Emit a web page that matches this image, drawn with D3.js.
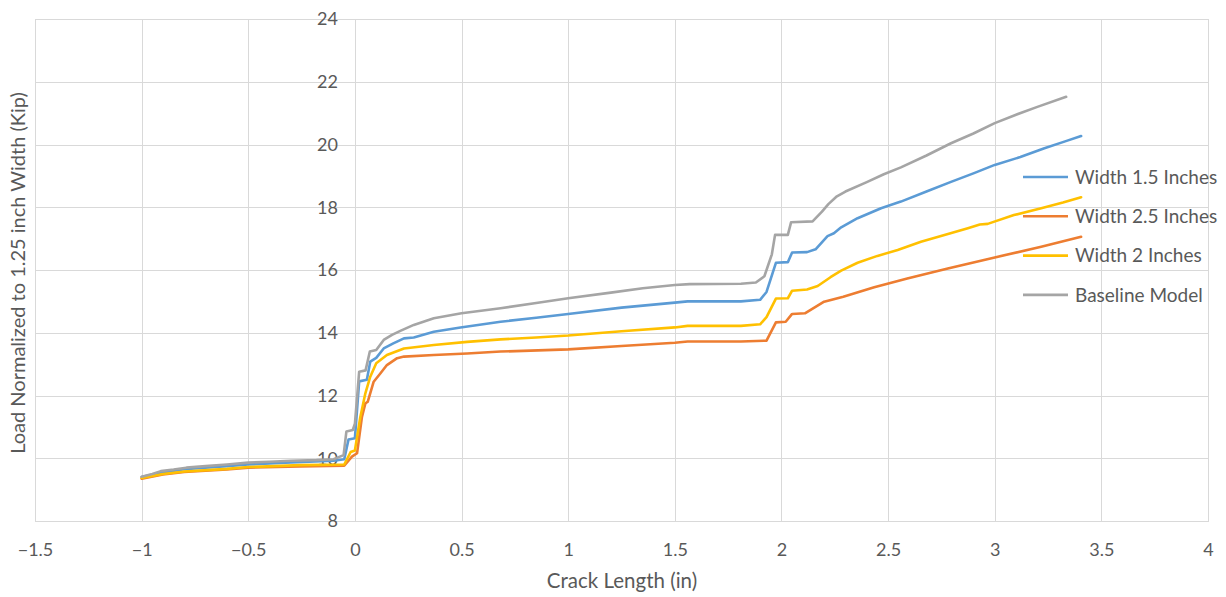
<!DOCTYPE html>
<html>
<head>
<meta charset="utf-8">
<script src="https://cdn.jsdelivr.net/npm/d3@7"></script>
<style>
  html, body { margin: 0; padding: 0; background: #ffffff; }
  svg text { font-family: Lato, "Open Sans", sans-serif; fill: #595959; }
</style>
</head>
<body>
<svg id="chart" width="1226" height="597"></svg>
<script>
// ---- data ----
const seriesNames = ["Width 1.5 Inches", "Width 2.5 Inches", "Width 2 Inches", "Baseline Model"];
const seriesColors = ["#5B9BD5", "#ED7D31", "#FFC000", "#A5A5A5"];

const width15 = [
  [-1.0,9.4],[-0.9,9.55],[-0.8,9.65],[-0.6,9.75],[-0.5,9.8],[-0.3,9.87],[-0.1,9.92],[-0.05,9.97],
  [-0.03,10.6],[0.0,10.64],[0.02,12.45],[0.056,12.5],[0.072,13.08],[0.1,13.2],[0.135,13.5],[0.18,13.66],
  [0.23,13.82],[0.276,13.85],[0.37,14.03],[0.495,14.17],[0.683,14.35],[0.85,14.48],[1.0,14.6],[1.25,14.8],
  [1.5,14.96],[1.56,15.0],[1.81,15.0],[1.9,15.05],[1.93,15.3],[1.974,16.23],[2.03,16.25],[2.05,16.56],
  [2.12,16.57],[2.16,16.66],[2.216,17.08],[2.246,17.17],[2.28,17.36],[2.357,17.65],[2.467,17.97],[2.56,18.18],
  [2.68,18.5],[2.795,18.81],[2.9,19.08],[3.0,19.35],[3.12,19.6],[3.233,19.88],[3.33,20.1],[3.405,20.27]
];
const width25 = [
  [-1.0,9.35],[-0.9,9.48],[-0.8,9.56],[-0.6,9.64],[-0.5,9.7],[-0.256,9.74],[-0.05,9.76],[-0.014,10.05],
  [0.01,10.16],[0.033,11.32],[0.049,11.75],[0.06,11.8],[0.088,12.44],[0.12,12.71],[0.15,12.97],[0.198,13.19],
  [0.23,13.24],[0.37,13.29],[0.526,13.34],[0.683,13.4],[1.0,13.47],[1.25,13.58],[1.5,13.68],[1.56,13.72],
  [1.81,13.72],[1.93,13.75],[1.974,14.33],[2.02,14.35],[2.05,14.6],[2.11,14.62],[2.2,14.99],[2.29,15.15],
  [2.435,15.45],[2.59,15.73],[2.78,16.05],[3.0,16.4],[3.218,16.74],[3.405,17.06]
];
const width2 = [
  [-1.0,9.37],[-0.9,9.5],[-0.8,9.58],[-0.6,9.66],[-0.5,9.72],[-0.256,9.78],[-0.05,9.8],[-0.02,10.2],
  [0.0,10.25],[0.025,11.3],[0.049,12.07],[0.072,12.6],[0.1,13.03],[0.15,13.29],[0.23,13.5],[0.37,13.61],
  [0.526,13.71],[0.683,13.79],[0.85,13.85],[1.0,13.91],[1.25,14.05],[1.5,14.17],[1.56,14.22],[1.81,14.22],
  [1.9,14.27],[1.93,14.5],[1.974,15.09],[2.03,15.1],[2.05,15.34],[2.12,15.38],[2.17,15.49],[2.23,15.77],
  [2.28,15.98],[2.357,16.23],[2.45,16.45],[2.545,16.64],[2.654,16.9],[2.748,17.08],[2.874,17.33],[2.93,17.45],
  [2.967,17.47],[3.09,17.75],[3.218,17.97],[3.32,18.15],[3.405,18.32]
];
const baseline = [
  [-1.0,9.41],[-0.95,9.5],[-0.91,9.59],[-0.85,9.64],[-0.79,9.7],[-0.7,9.75],[-0.6,9.8],[-0.5,9.86],
  [-0.4,9.89],[-0.3,9.92],[-0.18,9.94],[-0.1,9.97],[-0.053,10.1],[-0.04,10.85],[-0.01,10.9],[0.0,11.1],
  [0.02,12.76],[0.05,12.8],[0.07,13.4],[0.1,13.45],[0.135,13.77],[0.174,13.93],[0.213,14.06],[0.276,14.25],
  [0.37,14.46],[0.5,14.62],[0.683,14.78],[0.85,14.95],[1.0,15.1],[1.2,15.28],[1.35,15.42],[1.5,15.52],
  [1.57,15.55],[1.81,15.56],[1.88,15.6],[1.92,15.8],[1.955,16.5],[1.97,17.12],[2.03,17.12],[2.045,17.52],
  [2.146,17.55],[2.19,17.86],[2.22,18.1],[2.26,18.35],[2.3,18.5],[2.4,18.8],[2.48,19.05],[2.56,19.27],
  [2.68,19.65],[2.795,20.04],[2.9,20.35],[3.0,20.68],[3.1,20.95],[3.2,21.2],[3.335,21.52]
];
const seriesData = [width15, width25, width2, baseline];

const xTicks = [-1.5, -1, -0.5, 0, 0.5, 1, 1.5, 2, 2.5, 3, 3.5, 4];
const yTicks = [8, 10, 12, 14, 16, 18, 20, 22, 24];
const xTitle = "Crack Length (in)";
const yTitle = "Load Normalized to 1.25 inch Width (Kip)";

// ---- layout ----
const plot = { left: 35, right: 1208, top: 19, bottom: 521 };
const svg = d3.select("#chart");

const x = d3.scaleLinear().domain([-1.5, 4]).range([plot.left, plot.right]);
const y = d3.scaleLinear().domain([8, 24]).range([plot.bottom, plot.top]);

const gridColor = "#D9D9D9";

// vertical gridlines
svg.append("g")
  .attr("transform", `translate(0,${plot.bottom})`)
  .call(d3.axisBottom(x).tickValues(xTicks).tickSize(-(plot.bottom - plot.top)).tickFormat(""))
  .call(g => g.select(".domain").remove())
  .call(g => g.selectAll("line").attr("stroke", gridColor).attr("stroke-width", 1).attr("shape-rendering", "crispEdges"));

// horizontal gridlines
svg.append("g")
  .attr("transform", `translate(${plot.left},0)`)
  .call(d3.axisLeft(y).tickValues(yTicks).tickSize(-(plot.right - plot.left)).tickFormat(""))
  .call(g => g.select(".domain").remove())
  .call(g => g.selectAll("line").attr("stroke", gridColor).attr("stroke-width", 1).attr("shape-rendering", "crispEdges"));

// x axis labels
svg.append("g")
  .attr("transform", `translate(0,${plot.bottom})`)
  .call(d3.axisBottom(x).tickValues(xTicks).tickSize(0).tickPadding(20).tickFormat(d3.format("")))
  .call(g => g.select(".domain").attr("stroke", gridColor).attr("shape-rendering", "crispEdges"))
  .call(g => g.selectAll("text").attr("font-size", 18).attr("font-family", "Lato").attr("fill", "#595959").attr("dy", "0.35em").attr("y", 29));

// y axis labels at x = 0
svg.append("g")
  .attr("transform", `translate(${x(0)},0)`)
  .call(d3.axisLeft(y).tickValues(yTicks).tickSize(0).tickPadding(17))
  .call(g => g.select(".domain").attr("stroke", gridColor).attr("shape-rendering", "crispEdges"))
  .call(g => g.selectAll("text").attr("font-size", 18).attr("font-family", "Lato").attr("fill", "#595959"));

// lines
const line = d3.line().x(d => x(d[0])).y(d => y(d[1]));
svg.append("g").selectAll("path")
  .data(seriesData)
  .join("path")
  .attr("d", line)
  .attr("fill", "none")
  .attr("stroke", (d, i) => seriesColors[i])
  .attr("stroke-width", 2.6)
  .attr("stroke-linejoin", "round")
  .attr("stroke-linecap", "round");

// legend
const legend = svg.append("g").attr("transform", "translate(1023,177)");
const rows = legend.selectAll("g").data(seriesNames).join("g")
  .attr("transform", (d, i) => `translate(0,${i * 39.3})`);
rows.append("line")
  .attr("x1", 0).attr("x2", 45).attr("y1", 0).attr("y2", 0)
  .attr("stroke", (d, i) => seriesColors[i]).attr("stroke-width", 2.6);
rows.append("text")
  .attr("x", 52).attr("y", 0).attr("dy", "0.35em")
  .attr("font-size", 19)
  .text(d => d);

// axis titles
svg.append("text")
  .attr("x", 622).attr("y", 581)
  .attr("text-anchor", "middle").attr("dy", "0.35em")
  .attr("font-size", 20.5)
  .text(xTitle);

svg.append("text")
  .attr("transform", `translate(18,${(plot.top + plot.bottom) / 2 + 3}) rotate(-90)`)
  .attr("text-anchor", "middle").attr("dy", "0.35em")
  .attr("font-size", 20)
  .text(yTitle);
</script>
</body>
</html>
